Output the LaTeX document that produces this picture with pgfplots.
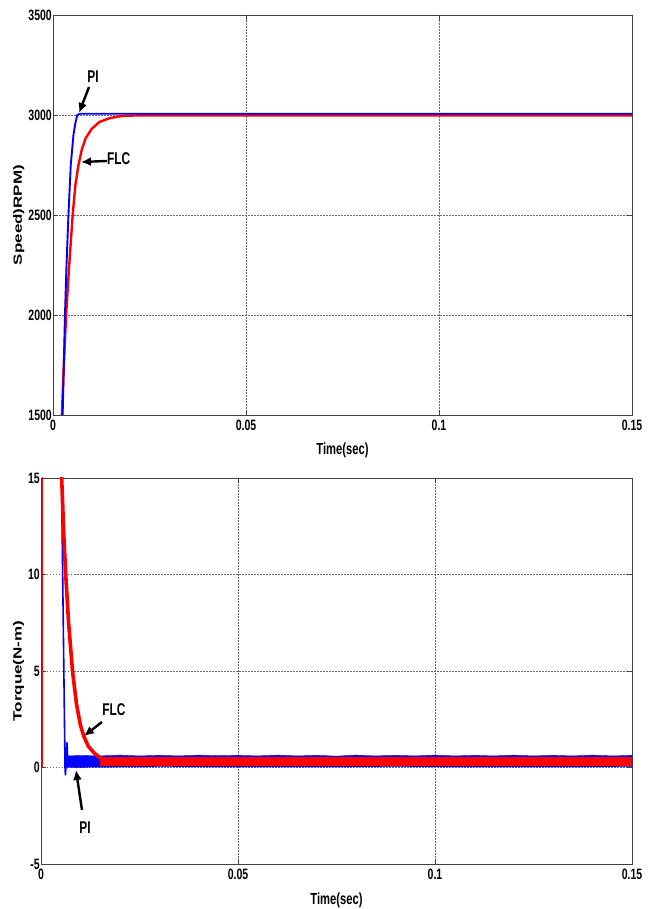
\documentclass[border=0pt]{standalone}
\usepackage{fontspec}
\setmainfont{Liberation Sans}[FakeStretch=0.7]
\newfontfamily\plainfont{Liberation Sans}
\usepackage{pgfplots}
\pgfplotsset{compat=1.18}
\usetikzlibrary{arrows.meta}
\pgfplotsset{mystyle/.style={
  scale only axis, xmin=0, xmax=0.15,
  xtick={0,0.05,0.1,0.15}, xticklabels={0,0.05,0.1,0.15},
  scaled x ticks=false, scaled y ticks=false,
  grid=major,
  major grid style={black!60, dash pattern=on 1.5pt off 1.5pt, line width=0.5pt},
  axis line style={black!75, line width=0.8pt},
  tick align=inside, major tick length=5pt,
  tick style={black!75, line width=0.6pt},
  /pgf/number format/assume math mode=true,
  /pgf/number format/1000 sep={},
  ticklabel style={font=\bfseries\fontsize{15}{16}\selectfont},
  yticklabel style={inner sep=1pt},
  xticklabel style={inner sep=2pt, yshift=-3pt},
  xlabel style={font=\bfseries\fontsize{16}{18}\selectfont, anchor=center},
  ylabel style={font=\plainfont\bfseries\fontsize{17}{19}\selectfont, anchor=center, yscale=0.7},
}}
\tikzset{annot/.style={font=\bfseries\fontsize{17}{18}\selectfont, inner sep=0pt},
  arr/.style={line width=2.4pt, -{Latex[length=10pt,width=9pt]}}}
\begin{document}
\begin{tikzpicture}
\useasboundingbox (0,0) rectangle (655pt,909pt);
% ---------------- top: speed ----------------
\begin{axis}[mystyle, at={(53pt,494pt)}, anchor=south west,
  width=579pt, height=400pt,
  ymin=1500, ymax=3500, ytick={1500,2000,2500,3000,3500},
  xlabel={Time(sec)}, ylabel={Speed)RPM)},
  xlabel style={at={(axis description cs:0.5,-0.0875)}},
  ylabel style={at={(axis description cs:-0.059,0.5)}}]
\addplot[red, line width=2.4pt] coordinates {
 (0.0020,1300) (0.0023,1500) (0.0028,1750) (0.0034,2000) (0.0042,2250) (0.0051,2500)
 (0.0058,2650) (0.0066,2750) (0.0075,2830) (0.0085,2885) (0.0100,2930)
 (0.0120,2965) (0.0148,2985) (0.0180,2995) (0.0220,2998) (0.15,2998)};
\addplot[blue, line width=1.9pt] coordinates {
 (0.0023,1300) (0.0025,1500) (0.0028,1750) (0.0031,2000) (0.0035,2250) (0.0040,2500)
 (0.0046,2750) (0.0053,2900) (0.0058,2960) (0.0063,3000) (0.0070,3006) (0.15,3006)};
\node[annot] at (axis cs:0.01036,3190) {PI};
\draw[arr] (axis cs:0.00933,3140) -- (axis cs:0.00674,3010);
\node[annot] at (axis cs:0.01700,2780) {FLC};
\draw[arr] (axis cs:0.0140,2770) -- (axis cs:0.00725,2765);
\end{axis}
% ---------------- bottom: torque ----------------
\begin{axis}[mystyle, at={(41pt,45pt)}, anchor=south west,
  width=591pt, height=386pt,
  ymin=-5, ymax=15, ytick={-5,0,5,10,15},
  xlabel={Time(sec)}, ylabel={Torque(N-m)},
  xlabel style={at={(axis description cs:0.5,-0.093)}},
  ylabel style={at={(axis description cs:-0.038,0.5)}}]
% blue steady-state band
\addplot[fill=blue, draw=blue, line width=0.4pt] coordinates {
 (0.0064,0.00) (0.0066,0.60) (0.010,0.62) (0.015,0.60) (0.020,0.64) (0.025,0.60)
 (0.030,0.63) (0.035,0.60) (0.040,0.64) (0.045,0.61) (0.050,0.63) (0.055,0.60)
 (0.060,0.64) (0.065,0.60) (0.070,0.63) (0.075,0.59) (0.080,0.64) (0.085,0.60)
 (0.090,0.63) (0.095,0.60) (0.100,0.64) (0.105,0.60) (0.110,0.63) (0.115,0.60)
 (0.120,0.64) (0.125,0.60) (0.130,0.63) (0.135,0.60) (0.140,0.64) (0.145,0.60)
 (0.150,0.63) (0.150,0.04) (0.120,0.03) (0.090,0.04) (0.060,0.03) (0.030,0.04)
 (0.015,0.02) (0.0064,0.00)};
% blue transient
\addplot[blue, line width=1.6pt] coordinates {
 (0.0050,20) (0.0052,15) (0.0055,10) (0.0058,5) (0.0061,0) (0.0062,-0.40)
 (0.0064,0.3) (0.0066,1.3) (0.0068,0.2) (0.0072,0.5)};
% red start spike
\addplot[red, line width=0.9pt] coordinates {(0.0004,0) (0.0004,20)};
% red steady-state band
\addplot[fill=red, draw=red, line width=0.4pt] coordinates {
 (0.0150,0.55) (0.150,0.55) (0.150,0.12) (0.0150,0.12)};
% red transient
\addplot[red, line width=3.6pt] coordinates {
 (0.0050,20) (0.00525,15) (0.0058,12) (0.00627,10) (0.0070,7.5) (0.0080,5)
 (0.0090,3.3) (0.0100,2.2) (0.0109,1.6) (0.0120,1.1) (0.0135,0.75) (0.0150,0.5)
 (0.0170,0.38) (0.0200,0.33)};
\node[annot] at (axis cs:0.0185,2.98) {FLC};
\draw[arr] (axis cs:0.01548,2.36) -- (axis cs:0.01091,1.63);
\node[annot] at (axis cs:0.01117,-3.13) {PI};
\draw[arr] (axis cs:0.0104,-2.2) -- (axis cs:0.00888,-0.13);
\end{axis}
\end{tikzpicture}
\end{document}
